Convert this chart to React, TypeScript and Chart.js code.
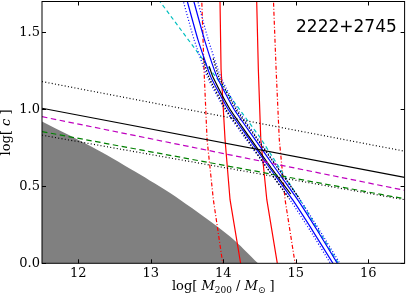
import { useEffect, useRef } from "react";
import { Chart, registerables } from "chart.js";
Chart.register(...registerables);

// ---- data ----
const xTicks = [12, 13, 14, 15, 16];
const yTicks = [0, 0.5, 1.0, 1.5];
const clusterName = "2222+2745";

const lineEndsX = [11.5, 16.5];
const dottedUpperY = [1.18, 0.728];
const blackFlatY = [1.007, 0.558];
const magentaDashedY = [0.952, 0.474];
const greenDashedY = [0.855, 0.419];
const dottedLowerY = [0.832, 0.413];

const greyX = [11.5, 12.254, 12.852, 13.403, 14.093, 14.479];
const greyY = [0.92, 0.739, 0.576, 0.413, 0.174, 0];

const redY = [1.75, 1.261, 0.804, 0.413, -0.01];
const redSolidLeftX = [13.953, 13.969, 14.024, 14.093, 14.242];
const redSolidRightX = [14.458, 14.483, 14.517, 14.6, 14.748];
const redDashDotLeftX = [13.7, 13.734, 13.776, 13.863, 13.995];
const redDashDotRightX = [14.688, 14.728, 14.772, 14.852, 14.993];

const cyanX = [13.048, 13.817, 14.507, 15.1, 15.6];
const cyanY = [1.75, 1.261, 0.817, 0.38, -0.01];

const bandY = [1.75, 1.456, 1.209, 1.0, 0.824, 0.622, 0.413, 0.211, -0.01];
const blueSolidLeftX = [13.475, 13.648, 13.829, 14.066, 14.33, 14.635, 14.955, 15.233, 15.525];
const blueSolidRightX = [13.565, 13.738, 13.915, 14.148, 14.408, 14.709, 15.025, 15.299, 15.585];
const blueDotLeftX = [13.42, 13.595, 13.78, 14.02, 14.285, 14.595, 14.92, 15.2, 15.49];
const blueDotRightX = [13.62, 13.79, 13.965, 14.195, 14.453, 14.75, 15.06, 15.332, 15.62];

const blackBandY = [1.28, 1.209, 1.0, 0.824, 0.622, 0.45];
const blackBandX = [13.805, 13.857, 14.092, 14.354, 14.657, 14.93];
const blackDotBandY = [1.33, 1.209, 1.0, 0.824, 0.622, 0.42];
const blackDotLeftX = [13.72, 13.8, 14.035, 14.3, 14.6, 14.91];
const blackDotRightX = [13.86, 13.94, 14.175, 14.44, 14.745, 15.05];

const W = 407;
const H = 296;
const PLOT_LEFT = 42;
const PLOT_RIGHT = 404.6;
const PLOT_TOP = 1.5;
const PLOT_BOTTOM = 263.3;

const SERIF = "'DejaVu Serif', serif";

function pts(xs: number[], ys: number[]) {
  return xs.map((x, i) => ({ x, y: ys[i] }));
}

function line(xs: number[], ys: number[], color: string, dash: number[] = [], width = 1.2, tension = 0) {
  return {
    data: pts(xs, ys),
    borderColor: color,
    borderWidth: width,
    borderDash: dash,
    pointRadius: 0,
    fill: false,
    tension,
    order: 0,
  };
}

type Run = { t: string; font: string; dy?: number };

function drawRuns(ctx: CanvasRenderingContext2D, runs: Run[], cx: number, y: number) {
  let total = 0;
  for (const r of runs) {
    ctx.font = r.font;
    total += ctx.measureText(r.t).width;
  }
  let x = cx - total / 2;
  ctx.textAlign = "left";
  ctx.textBaseline = "alphabetic";
  for (const r of runs) {
    ctx.font = r.font;
    ctx.fillText(r.t, x, y + (r.dy || 0));
    x += ctx.measureText(r.t).width;
  }
}

const framePlugin = {
  id: "frame",
  afterDatasetsDraw(chart: any) {
    const { ctx, chartArea } = chart;
    const { left, right, top, bottom } = chartArea;
    const xs = chart.scales.x;
    const ys = chart.scales.y;
    ctx.save();
    ctx.strokeStyle = "#000";
    ctx.lineWidth = 1;
    ctx.setLineDash([]);
    ctx.strokeRect(left, top, right - left, bottom - top);
    ctx.beginPath();
    const tl = 4;
    for (const v of xTicks) {
      const px = Math.round(xs.getPixelForValue(v)) + 0.5;
      ctx.moveTo(px, bottom);
      ctx.lineTo(px, bottom - tl);
      ctx.moveTo(px, top);
      ctx.lineTo(px, top + tl);
    }
    for (const v of yTicks) {
      const py = Math.round(ys.getPixelForValue(v)) + 0.5;
      ctx.moveTo(left, py);
      ctx.lineTo(left + tl, py);
      ctx.moveTo(right, py);
      ctx.lineTo(right - tl, py);
    }
    ctx.stroke();

    // annotation
    ctx.fillStyle = "#000";
    ctx.font = "17px 'DejaVu Sans', sans-serif";
    ctx.textAlign = "left";
    ctx.textBaseline = "alphabetic";
    ctx.fillText(clusterName, 296, 31.7);

    // x title
    const n = "13px " + SERIF;
    const it = "italic 13px " + SERIF;
    const sub = "9px " + SERIF;
    drawRuns(
      ctx,
      [
        { t: "log[ ", font: n },
        { t: "M", font: it },
        { t: "200", font: sub, dy: 3 },
        { t: " / ", font: n },
        { t: "M", font: it },
        { t: "\u2299", font: "9px 'DejaVu Sans', sans-serif", dy: 3 },
        { t: " ]", font: n },
      ],
      (left + right) / 2,
      290
    );

    // y title
    ctx.save();
    ctx.translate(10, (top + bottom) / 2);
    ctx.rotate(-Math.PI / 2);
    drawRuns(
      ctx,
      [
        { t: "log[ ", font: n },
        { t: "c", font: it },
        { t: " ]", font: n },
      ],
      0,
      0
    );
    ctx.restore();
    ctx.restore();
  },
};

export default function App() {
  const ref = useRef<HTMLCanvasElement | null>(null);
  useEffect(() => {
    if (!ref.current) return;
    const datasets: any[] = [
      line(lineEndsX, dottedUpperY, "#000", [1, 2.3]),
      line(lineEndsX, blackFlatY, "#000", []),
      line(lineEndsX, magentaDashedY, "#bf00bf", [5.5, 3.5]),
      line(lineEndsX, greenDashedY, "#008000", [5.5, 3.5]),
      line(lineEndsX, dottedLowerY, "#000", [1, 2.3]),
      line(blackBandX, blackBandY, "#000", [], 1.2, 0.15),
      line(blackDotLeftX, blackDotBandY, "#000", [1.5, 1.5], 1.2, 0.15),
      line(blackDotRightX, blackDotBandY, "#000", [1.5, 1.5], 1.2, 0.15),
      line(blueSolidLeftX, bandY, "#0000ff", [], 1.2, 0.15),
      line(blueSolidRightX, bandY, "#0000ff", [], 1.2, 0.15),
      line(blueDotLeftX, bandY, "#0000ff", [1, 2], 1.2, 0.15),
      line(blueDotRightX, bandY, "#0000ff", [1, 2], 1.2, 0.15),
      line(cyanX, cyanY, "#00bfbf", [4, 3]),
      line(redSolidLeftX, redY, "#ff0000", []),
      line(redSolidRightX, redY, "#ff0000", []),
      line(redDashDotLeftX, redY, "#ff0000", [4, 2, 1, 2]),
      line(redDashDotRightX, redY, "#ff0000", [4, 2, 1, 2]),
      {
        data: pts(greyX, greyY),
        borderWidth: 0,
        borderColor: "rgba(0,0,0,0)",
        backgroundColor: "#808080",
        pointRadius: 0,
        fill: "origin",
        tension: 0.3,
        order: 10,
      },
    ];
    const chart = new Chart(ref.current, {
      type: "line",
      data: { datasets },
      options: {
        animation: false,
        responsive: false,
        devicePixelRatio: 1,
        layout: { padding: { top: PLOT_TOP, right: W - PLOT_RIGHT, left: 0, bottom: 0 } },
        plugins: { legend: { display: false }, tooltip: { enabled: false } },
        scales: {
          x: {
            type: "linear",
            min: 11.5,
            max: 16.5,
            grid: { display: false, drawTicks: false },
            border: { display: false },
            ticks: {
              font: { family: SERIF, size: 13 },
              color: "#000",
              padding: 3,
              maxRotation: 0,
              callback: (v: any) => String(v),
            },
            afterBuildTicks: (s: any) => {
              s.ticks = xTicks.map((v) => ({ value: v }));
            },
            afterFit: (s: any) => {
              s.height = H - PLOT_BOTTOM;
              s.paddingLeft = 0;
              s.paddingRight = 0;
              s.paddingTop = 0;
              s.paddingBottom = 0;
            },
          },
          y: {
            type: "linear",
            min: 0,
            max: 1.7,
            grid: { display: false, drawTicks: false },
            border: { display: false },
            ticks: {
              font: { family: SERIF, size: 13 },
              color: "#000",
              padding: 2,
              callback: (v: any) => Number(v).toFixed(1),
            },
            afterBuildTicks: (s: any) => {
              s.ticks = yTicks.map((v) => ({ value: v }));
            },
            afterFit: (s: any) => {
              s.width = PLOT_LEFT;
              s.paddingLeft = 0;
              s.paddingRight = 0;
              s.paddingTop = 0;
              s.paddingBottom = 0;
            },
          },
        },
      },
      plugins: [framePlugin],
    });
    return () => chart.destroy();
  }, []);
  return (
    <div style={{ position: "fixed", left: 0, top: 0, width: W, height: H, background: "#fff" }}>
      <canvas ref={ref} width={W} height={H} style={{ width: W, height: H, display: "block" }} />
    </div>
  );
}
